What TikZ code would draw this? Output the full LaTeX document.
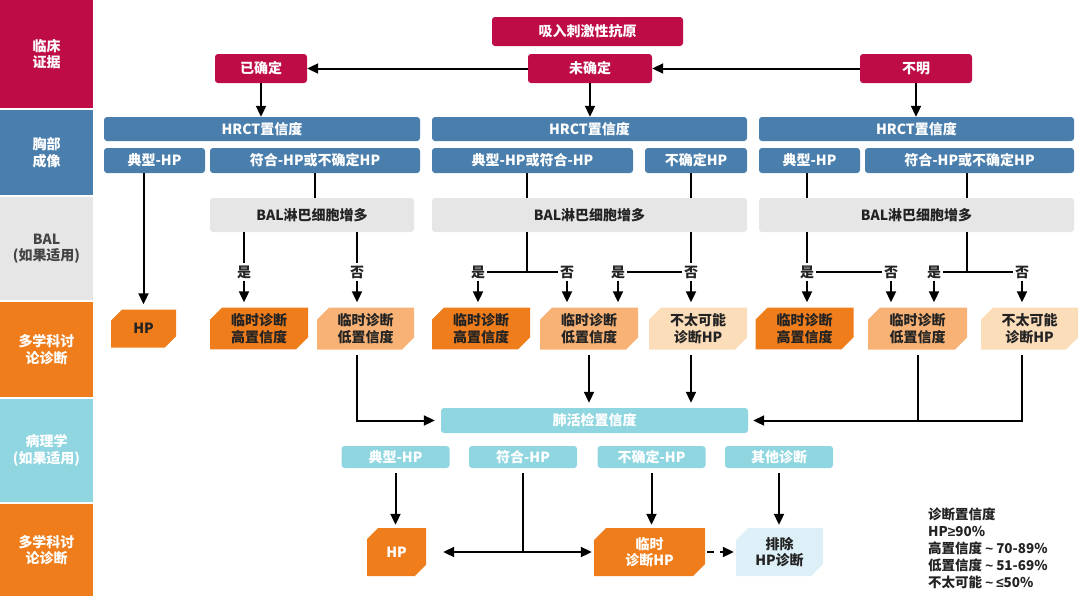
\documentclass[tikz,border=0pt]{standalone}
\usepackage{fontspec}
\setmainfont{Noto Sans CJK SC}
\newfontfamily\symf{Liberation Sans}
\usetikzlibrary{arrows.meta,shapes.misc}
\definecolor{crim}{RGB}{190,12,70}
\definecolor{steel}{RGB}{74,126,172}
\definecolor{lgray}{RGB}{230,230,230}
\definecolor{dorange}{RGB}{240,125,28}
\definecolor{morange}{RGB}{248,178,118}
\definecolor{lorange}{RGB}{252,221,185}
\definecolor{cyanb}{RGB}{143,214,225}
\definecolor{lblue}{RGB}{221,239,247}
\definecolor{dtext}{RGB}{35,35,35}
\begin{document}
\begin{tikzpicture}[x=1pt,y=-1pt,
  base/.style={inner sep=0pt, align=center, font=\bfseries\fontsize{14}{16.5}\selectfont},
  band/.style={base, rectangle, minimum width=93pt},
  rbox/.style={base, rectangle, rounded corners=3pt},
  cham/.style={base, chamfered rectangle, chamfered rectangle corners={north west,south east},
    chamfered rectangle sep=6pt, text=dtext},
  lbl/.style={base, inner xsep=2pt, inner ysep=2pt, text=dtext},
  ln/.style={line width=2pt},
  arr/.style={ln, -{Triangle[width=10pt,length=11pt]}}
]
\useasboundingbox (0,0) rectangle (1080,600);
% left bands
\node[band, fill=crim, text=white, minimum height=108pt] (b1) at (46.5,54) {临床\\证据};
\node[band, fill=steel, text=white, minimum height=85pt] (b2) at (46.5,152.5) {胸部\\成像};
\node[band, fill=lgray, text=dtext!85, minimum height=103pt] (b3) at (46.5,248.5) {BAL\\(如果适用)};
\node[band, fill=dorange, text=white, minimum height=95pt] (b4) at (46.5,349.5) {多学科讨\\论诊断};
\node[band, fill=cyanb, text=white, minimum height=103pt] (b5) at (46.5,450.5) {病理学\\(如果适用)};
\node[band, fill=dorange, text=white, minimum height=92pt] (b6) at (46.5,550) {多学科讨\\论诊断};
% top
\node[rbox, fill=crim, text=white, minimum width=191pt, minimum height=29pt] (q) at (587.5,31.5) {吸入刺激性抗原};
\node[rbox, fill=crim, text=white, minimum width=92pt, minimum height=29pt] (c1) at (261,68.5) {已确定};
\node[rbox, fill=crim, text=white, minimum width=124pt, minimum height=29pt] (c2) at (590,68.5) {未确定};
\node[rbox, fill=crim, text=white, minimum width=112pt, minimum height=29pt] (c3) at (916,68.5) {不明};
% HRCT
\node[rbox, fill=steel, text=white, minimum width=316pt, minimum height=24pt] (h1) at (262,129) {HRCT置信度};
\node[rbox, fill=steel, text=white, minimum width=315pt, minimum height=24pt] (h2) at (589.5,129) {HRCT置信度};
\node[rbox, fill=steel, text=white, minimum width=315pt, minimum height=24pt] (h3) at (916.5,129) {HRCT置信度};
\node[rbox, fill=steel, text=white, minimum width=101pt, minimum height=25pt] (s11) at (154.5,160.5) {典型-HP};
\node[rbox, fill=steel, text=white, minimum width=210pt, minimum height=25pt] (s12) at (315,160.5) {符合-HP或不确定HP};
\node[rbox, fill=steel, text=white, minimum width=201pt, minimum height=25pt] (s21) at (532.5,160.5) {典型-HP或符合-HP};
\node[rbox, fill=steel, text=white, minimum width=102pt, minimum height=25pt] (s22) at (696,160.5) {不确定HP};
\node[rbox, fill=steel, text=white, minimum width=101pt, minimum height=25pt] (s31) at (809.5,160.5) {典型-HP};
\node[rbox, fill=steel, text=white, minimum width=209pt, minimum height=25pt] (s32) at (969.5,160.5) {符合-HP或不确定HP};
% BAL
\node[rbox, fill=lgray, text=dtext, minimum width=204pt, minimum height=34pt] (bal1) at (312,215) {BAL淋巴细胞增多};
\node[rbox, fill=lgray, text=dtext, minimum width=315pt, minimum height=34pt] (bal2) at (589.5,215) {BAL淋巴细胞增多};
\node[rbox, fill=lgray, text=dtext, minimum width=315pt, minimum height=34pt] (bal3) at (916.5,215) {BAL淋巴细胞增多};
% yes/no labels
\node[lbl] (y1) at (244,272) {是};
\node[lbl] (n1) at (357,272) {否};
\node[lbl] (y2) at (478,272) {是};
\node[lbl] (n2) at (567,272) {否};
\node[lbl] (y3) at (618,272) {是};
\node[lbl] (n3) at (691,272) {否};
\node[lbl] (y4) at (807,272) {是};
\node[lbl] (n4) at (891,272) {否};
\node[lbl] (y5) at (934,272) {是};
\node[lbl] (n5) at (1022,272) {否};
\coordinate (m1) at (527,272);
\coordinate (m2) at (967,272);
% row 4
\node[cham, fill=dorange, minimum width=65pt, minimum height=38pt] (r1) at (143.5,328.5) {HP};
\node[cham, fill=dorange, minimum width=98pt, minimum height=38pt] (r2) at (259,328.5) {临时诊断\\高置信度};
\node[cham, fill=morange, minimum width=97pt, minimum height=38pt] (r3) at (365.5,328.5) {临时诊断\\低置信度};
\node[cham, fill=dorange, minimum width=98pt, minimum height=38pt] (r4) at (481,328.5) {临时诊断\\高置信度};
\node[cham, fill=morange, minimum width=98pt, minimum height=38pt] (r5) at (589,328.5) {临时诊断\\低置信度};
\node[cham, fill=lorange, minimum width=98pt, minimum height=38pt] (r6) at (698,328.5) {不太可能\\诊断HP};
\node[cham, fill=dorange, minimum width=98pt, minimum height=38pt] (r7) at (804.5,328.5) {临时诊断\\高置信度};
\node[cham, fill=morange, minimum width=99pt, minimum height=38pt] (r8) at (917.5,328.5) {临时诊断\\低置信度};
\node[cham, fill=lorange, minimum width=97pt, minimum height=38pt] (r9) at (1029.5,328.5) {不太可能\\诊断HP};
% biopsy
\node[rbox, fill=cyanb, text=white, minimum width=307pt, minimum height=25pt] (bx) at (594.5,420.5) {肺活检置信度};
\node[rbox, fill=cyanb, text=white, minimum width=108pt, minimum height=22pt] (p1) at (395.5,457) {典型-HP};
\node[rbox, fill=cyanb, text=white, minimum width=108pt, minimum height=22pt] (p2) at (523,457) {符合-HP};
\node[rbox, fill=cyanb, text=white, minimum width=108pt, minimum height=22pt] (p3) at (651.5,457) {不确定-HP};
\node[rbox, fill=cyanb, text=white, minimum width=108pt, minimum height=22pt] (p4) at (779,457) {其他诊断};
% bottom
\node[cham, fill=dorange, text=white, minimum width=59pt, minimum height=48pt] (f1) at (396.5,552) {HP};
\node[cham, fill=dorange, text=white, minimum width=111pt, minimum height=48pt] (f2) at (649.5,552) {临时\\诊断HP};
\node[cham, fill=lblue, minimum width=87pt, minimum height=48pt] (f3) at (779.5,552) {排除\\HP诊断};
% legend
\node[base, align=left, anchor=north west, text=dtext, font=\bfseries\fontsize{13.5}{16.8}\selectfont] (leg) at (928,508)
  {诊断置信度\\HP{\symf ≥}90\%\\高置信度 {\symf\char"007E} 70-89\%\\低置信度 {\symf\char"007E} 51-69\%\\不太可能 {\symf\char"007E} {\symf ≤}50\%};
% connectors top
\draw[arr] (c2.west) -- (c1.east);
\draw[arr] (c3.west) -- (c2.east);
\draw[arr] (c1.south) -- (c1.south |- h1.north);
\draw[arr] (c2.south) -- (c2.south |- h2.north);
\draw[arr] (c3.south) -- (c3.south |- h3.north);
% to BAL
\draw[arr, shorten >=5pt] (s11.south -| r1.north) -- (r1.north);
\draw[ln] (s12.south) -- (s12.south |- bal1.north);
\draw[ln] (s21.south -| m1) -- (bal2.north -| m1);
\draw[ln] (s22.south -| n3) -- (bal2.north -| n3);
\draw[ln] (s31.south -| y4) -- (bal3.north -| y4);
\draw[ln] (s32.south -| m2) -- (bal3.north -| m2);
% BAL branches
\draw[ln] (bal1.south -| y1) -- (y1.north);
\draw[ln] (bal1.south -| n1) -- (n1.north);
\draw[ln] (bal2.south -| m1) -- (m1);
\draw[ln] (y2.east) -- (n2.west);
\draw[ln] (bal2.south -| n3) -- (n3.north);
\draw[ln] (y3.east) -- (n3.west);
\draw[ln] (bal3.south -| y4) -- (y4.north);
\draw[ln] (y4.east) -- (n4.west);
\draw[ln] (bal3.south -| m2) -- (m2);
\draw[ln] (y5.east) -- (n5.west);
\foreach \l/\r in {y1/r2,n1/r3,y2/r4,n2/r5,y3/r5,n3/r6,y4/r7,n4/r8,y5/r8,n5/r9}
  \draw[arr, shorten >=5pt] (\l.south) -- (\l.south |- \r.north);
% to biopsy
\draw[arr, shorten <=5pt, shorten >=6pt] (n1 |- r3.south) |- (bx.west);
\draw[arr, shorten <=5pt, shorten >=5pt] (r5.south) -- (r5.south |- bx.north);
\draw[arr, shorten <=5pt, shorten >=5pt] (n3 |- r6.south) -- (n3 |- bx.north);
\draw[ln, shorten <=5pt] (r8.south) -- (r8.south |- bx.east);
\draw[arr, shorten <=5pt, shorten >=5pt] (n5 |- r9.south) |- (bx.east);
% pathology
\draw[arr, shorten <=5pt, shorten >=3pt] (p1.south) -- (p1.south |- f1.north);
\draw[ln, shorten <=5pt] (p2.south) -- (p2.south |- f1.east) coordinate (j);
\draw[arr, shorten >=17pt] (j) -- (f1.east);
\draw[arr, shorten >=2pt] (j) -- (f2.west);
\draw[arr, shorten <=5pt, shorten >=3pt] (p3.south) -- (p3.south |- f2.north);
\draw[arr, shorten <=5pt, shorten >=3pt] (p4.south) -- (p4.south |- f3.north);
\draw[arr, dash pattern=on 7pt off 6pt, shorten <=2pt, shorten >=2pt] (f2.east) -- (f3.west);
\end{tikzpicture}
\end{document}
